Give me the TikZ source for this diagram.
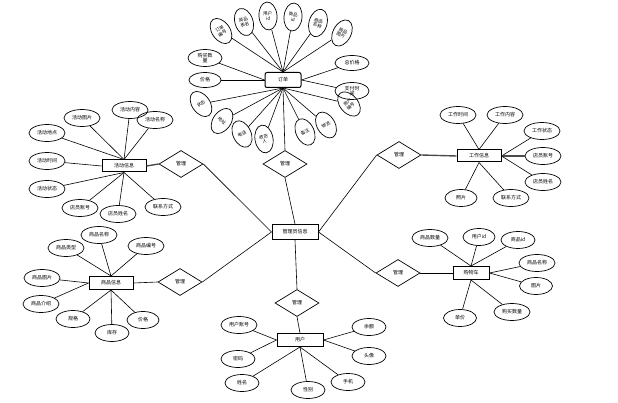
\documentclass[tikz,border=0pt]{standalone}
\usepackage{fontspec}
\newfontfamily\cjk{Noto Sans CJK SC}
\usetikzlibrary{shapes.geometric}
\tikzstyle{entity} = [draw, line width=1pt, rectangle, minimum width=44pt, minimum height=13pt, inner sep=1pt, font=\cjk\fontsize{5}{6}\selectfont]
\tikzstyle{attr} = [draw, line width=0.7pt, ellipse, minimum width=36pt, minimum height=17pt, inner sep=0pt, font=\cjk\fontsize{5}{6}\selectfont]
\tikzstyle{vattr} = [draw, line width=0.7pt, ellipse, minimum width=18pt, minimum height=28pt, inner sep=0pt, align=center, font=\cjk\fontsize{4.5}{5}\selectfont]
\tikzstyle{rel} = [draw, line width=0.7pt, diamond, minimum width=44pt, minimum height=27pt, inner sep=0pt, font=\cjk\fontsize{5}{6}\selectfont]
\tikzstyle{link} = [line width=0.6pt]
\tikzstyle{heavy} = [line width=1.4pt, black!70]

\begin{document}
\begin{tikzpicture}[x=1pt, y=-1pt]
		\useasboundingbox (0, 0) rectangle (618, 403);
		% 订单
		\node[entity, rounded corners=2pt, minimum width=36pt, minimum height=15pt] (order) at (283, 80) {订单};
		\node[vattr, rotate=35] (oNo) at (221, 31) {订单\\编号};
		\node[vattr, rotate=18] (oTable) at (244, 22) {商品\\表名};
		\node[vattr, rotate=5] (oUid) at (268, 16) {用户\\id};
		\node[vattr, rotate=-5] (oGid) at (293, 17) {商品\\id};
		\node[vattr, rotate=-16] (oGname) at (318, 23) {商品\\名称};
		\node[vattr, rotate=-28] (oGpic) at (342, 33) {商品\\图片};
		\node[attr, minimum width=34pt, align=center, font=\cjk\fontsize{5}{5.5}\selectfont] (oNum) at (205, 58) {购买数\\量};
		\node[attr, minimum width=32pt, minimum height=15pt] (oPrice) at (205, 80) {价格};
		\node[attr, minimum width=34pt, minimum height=15pt] (oTotal) at (352, 63) {总价格};
		\node[attr, minimum width=34pt, align=center, font=\cjk\fontsize{5}{5.5}\selectfont] (oPay) at (352, 91) {支付时\\间};
		\node[vattr, rotate=35] (oState) at (201, 104) {状态};
		\node[vattr, rotate=-35] (oAddr) at (222, 121) {地址};
		\node[vattr, rotate=25] (oTel) at (242, 134) {电话};
		\node[vattr, rotate=10] (oRecv) at (264, 139) {收货\\人};
		\node[vattr, rotate=25] (oNote) at (305, 132) {备注};
		\node[vattr, rotate=30] (oShip) at (326, 125) {物流};
		\node[vattr, rotate=40] (oUno) at (349, 104) {用户\\编号};
		\node[rel] (relOrder) at (285, 164) {管理};
		\draw[link] (order.north) -- (oNo);
		\draw[link] (order.north) -- (oTable);
		\draw[link] (order.north) -- (oUid);
		\draw[link] (order.north) -- (oGid);
		\draw[link] (order.north) -- (oGname);
		\draw[link] (order.north) -- (oGpic);
		\draw[link] (order.west) -- (oNum);
		\draw[link] (order.west) -- (oPrice);
		\draw[link] (order.east) -- (oTotal);
		\draw[link] (order.east) -- (oPay);
		\draw[link] (order.south) -- (oState);
		\draw[link] (order.south) -- (oAddr);
		\draw[link] (order.south) -- (oTel);
		\draw[link] (order.south) -- (oRecv);
		\draw[link] (order.south) -- (oNote);
		\draw[link] (order.south) -- (oShip);
		\draw[link] (order.south) -- (oUno);
		\draw[link] (order.south) -- (relOrder.north);

		% 管理员信息
		\node[entity, minimum width=46pt, minimum height=15pt] (admin) at (295, 232) {管理员信息};
		\draw[link] (relOrder.south) -- (admin.north);

		% 活动信息
		\node[entity, minimum height=12pt] (act) at (124, 166) {活动信息};
		\node[attr] (aPic) at (82, 118) {活动图片};
		\node[attr] (aText) at (130, 110) {活动内容};
		\node[attr] (aName) at (155, 120) {活动名称};
		\node[attr] (aPlace) at (47, 133) {活动地点};
		\node[attr] (aTime) at (47, 161) {活动时间};
		\node[attr] (aState) at (47, 189) {活动状态};
		\node[attr] (aClerk) at (80, 208) {店员账号};
		\node[attr] (aCname) at (118, 214) {店员姓名};
		\node[attr] (aTel) at (163, 207) {联系方式};
		\node[rel] (relAct) at (181, 164) {管理};
		\draw[link] (act.north) -- (aPic);
		\draw[link] (act.north) -- (aText);
		\draw[link] (act.north) -- (aName);
		\draw[link] (act.north) -- (aPlace);
		\draw[link] (act.west) -- (aTime);
		\draw[link] (act.south) -- (aState);
		\draw[link] (act.south) -- (aClerk);
		\draw[link] (act.south) -- (aCname);
		\draw[link] (act.south) -- (aTel);
		\draw[heavy] (act.east) -- (relAct.west);
		\draw[link] (relAct.east) -- (admin.west);

		% 工作信息
		\node[entity, minimum height=12pt] (work) at (479, 156) {工作信息};
		\node[attr] (wTime) at (458, 115) {工作时间};
		\node[attr] (wText) at (505, 115) {工作内容};
		\node[attr] (wState) at (542, 131) {工作状态};
		\node[attr] (wClerk) at (543, 156) {店员账号};
		\node[attr] (wCname) at (543, 182) {店员姓名};
		\node[attr, minimum width=32pt] (wPhoto) at (461, 198) {照片};
		\node[attr] (wTel) at (511, 198) {联系方式};
		\node[rel] (relWork) at (399, 155) {管理};
		\draw[link] (work.north) -- (wTime);
		\draw[link] (work.north) -- (wText);
		\draw[link] (work.east) -- (wState);
		\draw[heavy] (work.east) -- (wClerk);
		\draw[link] (work.east) -- (wCname);
		\draw[link] (work.south) -- (wPhoto);
		\draw[link] (work.south) -- (wTel);
		\draw[heavy] (work.west) -- (relWork.east);
		\draw[link] (relWork.west) -- (admin.east);

		% 商品信息
		\node[entity, minimum height=13pt] (goods) at (111, 283) {商品信息};
		\node[attr] (gType) at (66, 248) {商品类型};
		\node[attr] (gName) at (99, 235) {商品名称};
		\node[attr] (gNo) at (146, 246) {商品编号};
		\node[attr] (gPic) at (42, 278) {商品图片};
		\node[attr] (gIntro) at (41, 304) {商品介绍};
		\node[attr, minimum width=34pt] (gSpec) at (73, 319) {规格};
		\node[attr, minimum width=34pt] (gStock) at (112, 333) {库存};
		\node[attr, minimum width=32pt] (gPrice) at (143, 320) {价格};
		\node[rel] (relGoods) at (180, 282) {管理};
		\draw[link] (goods.north) -- (gType);
		\draw[link] (goods.north) -- (gName);
		\draw[link] (goods.north) -- (gNo);
		\draw[link] (goods.west) -- (gPic);
		\draw[link] (goods.west) -- (gIntro);
		\draw[link] (goods.south) -- (gSpec);
		\draw[link] (goods.south) -- (gStock);
		\draw[link] (goods.south) -- (gPrice);
		\draw[link] (goods.east) -- (relGoods.west);
		\draw[link] (relGoods.east) -- (admin.west);

		% 购物车
		\node[entity, minimum width=36pt, minimum height=13pt] (cart) at (471, 273) {购物车};
		\node[attr] (cNum) at (430, 238) {商品数量};
		\node[attr, minimum width=32pt] (cUid) at (479, 237) {用户id};
		\node[attr, minimum width=34pt] (cGid) at (518, 240) {商品id};
		\node[attr] (cName) at (537, 263) {商品名称};
		\node[attr, minimum width=33pt] (cPic) at (536, 286) {图片};
		\node[attr] (cBuy) at (512, 312) {购买数量};
		\node[attr, minimum width=33pt] (cUnit) at (460, 318) {单价};
		\node[rel] (relCart) at (398, 273) {管理};
		\draw[link] (cart.north) -- (cNum);
		\draw[link] (cart.north) -- (cUid);
		\draw[link] (cart.north) -- (cGid);
		\draw[link] (cart.east) -- (cName);
		\draw[link] (cart.east) -- (cPic);
		\draw[link] (cart.south) -- (cBuy);
		\draw[link] (cart.south) -- (cUnit);
		\draw[link] (cart.west) -- (relCart.east);
		\draw[link] (relCart.west) -- (admin.east);

		% 用户
		\node[entity, minimum width=46pt, minimum height=13pt] (user) at (300, 340) {用户};
		\node[attr] (uNo) at (239, 325) {用户账号};
		\node[attr, minimum width=34pt] (uPwd) at (238, 359) {密码};
		\node[attr, minimum width=34pt] (uName) at (242, 383) {姓名};
		\node[attr, minimum width=34pt] (uSex) at (308, 390) {性别};
		\node[attr, minimum width=34pt] (uPhone) at (348, 382) {手机};
		\node[attr, minimum width=34pt] (uMoney) at (369, 327) {余额};
		\node[attr, minimum width=34pt] (uHead) at (369, 356) {头像};
		\node[rel] (relUser) at (297, 303) {管理};
		\draw[link] (user.west) -- (uNo);
		\draw[link] (user.west) -- (uPwd);
		\draw[link] (user.south) -- (uName);
		\draw[link] (user.south) -- (uSex);
		\draw[link] (user.south) -- (uPhone);
		\draw[link] (user.east) -- (uMoney);
		\draw[link] (user.east) -- (uHead);
		\draw[link] (user.north) -- (relUser.south);
		\draw[link] (relUser.north) -- (admin.south);
		\end{tikzpicture}
\end{document}
